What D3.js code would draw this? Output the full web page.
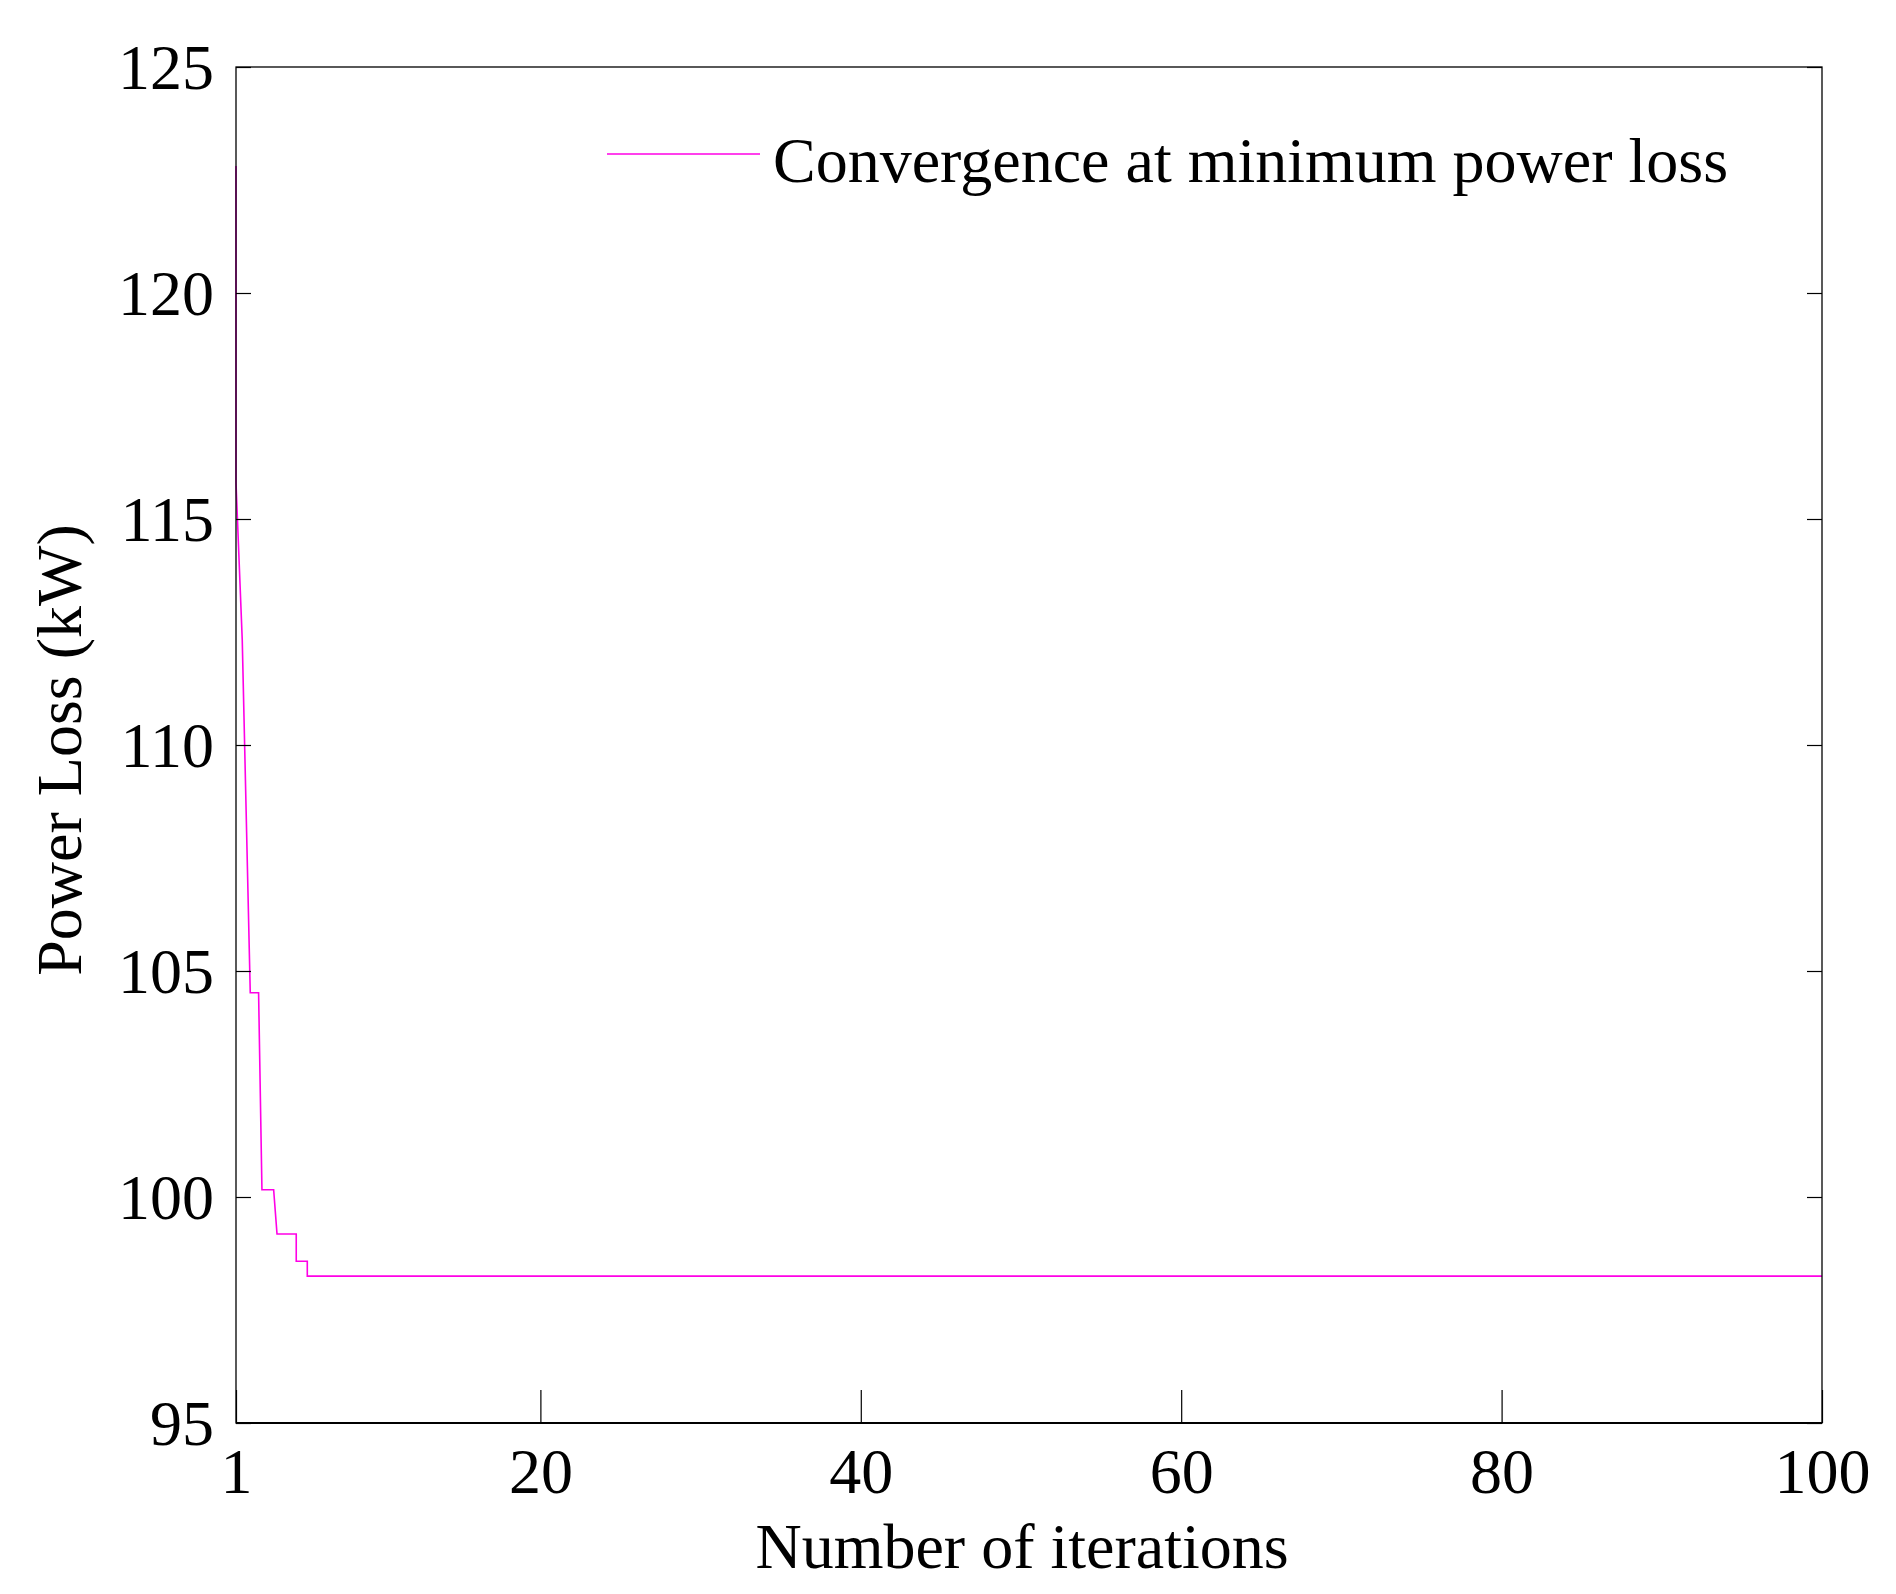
<!DOCTYPE html>
<html>
<head>
<meta charset="utf-8">
<script src="https://cdn.jsdelivr.net/npm/d3@7"></script>
<style>
  body { margin: 0; background: #fff; }
  svg { display: block; font-family: "Liberation Serif", "Times New Roman", serif; }
</style>
</head>
<body>
<svg></svg>
<script>
// data
const iterations = [1, 1, 1.39, 1.89, 2.41, 2.62, 3.35, 3.56, 4.76, 4.76, 5.45, 5.45, 100];
const powerLoss = [122.81, 115.8, 112.32, 104.52, 104.52, 100.16, 100.16, 99.18, 99.18, 98.58, 98.58, 98.25, 98.25];
const xTicks = [1, 20, 40, 60, 80, 100];
const yTicks = [95, 100, 105, 110, 115, 120, 125];
const SERIES = "Convergence at minimum power loss",
  XLABEL = "Number of iterations",
  YLABEL = "Power Loss (kW)";

const W = 1896,
  H = 1594,
  margin = { top: 67, right: 74, bottom: 171, left: 236 },
  width = W - margin.left - margin.right,
  height = H - margin.top - margin.bottom,
  lineColor = "#ff00e6",
  fontSize = 64;

const data = iterations.map((d, i) => ({ x: d, y: powerLoss[i] }));

const svg = d3.select("svg").attr("width", W).attr("height", H);
const chart = svg
  .append("g")
  .attr("transform", "translate(" + margin.left + "," + margin.top + ")");

const x = d3.scaleLinear().domain([1, 100]).range([0, width]);
const y = d3.scaleLinear().domain([95, 125]).range([height, 0]);

// line first, frame on top of it
const line = d3
  .line()
  .x(d => x(d.x))
  .y(d => y(d.y));

chart
  .append("path")
  .datum(data)
  .attr("fill", "none")
  .attr("stroke", lineColor)
  .attr("stroke-width", 1.6)
  .attr("d", line);

// axes (ticks point inward, like matlab)
const xAxis = d3.axisBottom(x).tickValues(xTicks).tickSizeInner(-33).tickSizeOuter(0).tickPadding(0);
const yAxis = d3.axisLeft(y).tickValues(yTicks).tickSizeInner(-15).tickSizeOuter(0).tickPadding(22);
const yAxisR = d3.axisRight(y).tickValues(yTicks).tickSizeInner(-15).tickSizeOuter(0).tickFormat("");

const gx = chart
  .append("g")
  .attr("transform", "translate(0," + height + ")")
  .call(xAxis);
gx.selectAll("text")
  .attr("dy", null)
  .attr("y", 70)
  .attr("font-size", fontSize);

const gy = chart.append("g").call(yAxis);
gy.selectAll("text")
  .attr("dy", "0.33em")
  .attr("font-size", fontSize);

chart
  .append("g")
  .attr("transform", "translate(" + width + ",0)")
  .call(yAxisR);

// d3 puts sans-serif on the axis groups, drop it so the serif font is used
chart.selectAll("g").attr("font-family", null);
chart.selectAll(".domain").remove();
chart.selectAll(".tick line").attr("stroke", "#000").attr("stroke-width", 1.2);
chart.selectAll(".tick text").attr("fill", "#000");

// box
chart
  .append("rect")
  .attr("width", width)
  .attr("height", height)
  .attr("fill", "none")
  .attr("stroke", "#000")
  .attr("stroke-width", 1.3);

chart
  .append("line")
  .attr("x1", 0)
  .attr("x2", width)
  .attr("y1", height)
  .attr("y2", height)
  .attr("stroke", "#000")
  .attr("stroke-width", 2);

// labels
svg
  .append("text")
  .attr("x", 1022)
  .attr("y", 1568)
  .attr("text-anchor", "middle")
  .attr("font-size", fontSize)
  .text(XLABEL);

svg
  .append("text")
  .attr("transform", "translate(81,750) rotate(-90)")
  .attr("text-anchor", "middle")
  .attr("font-size", fontSize)
  .text(YLABEL);

// legend, no box
const legend = svg.append("g").attr("transform", "translate(607,154)");
legend
  .append("line")
  .attr("x1", 0)
  .attr("x2", 153)
  .attr("stroke", lineColor)
  .attr("stroke-width", 1.6);
legend
  .append("text")
  .attr("x", 166)
  .attr("y", 28)
  .attr("font-size", fontSize)
  .text(SERIES);
</script>
</body>
</html>
